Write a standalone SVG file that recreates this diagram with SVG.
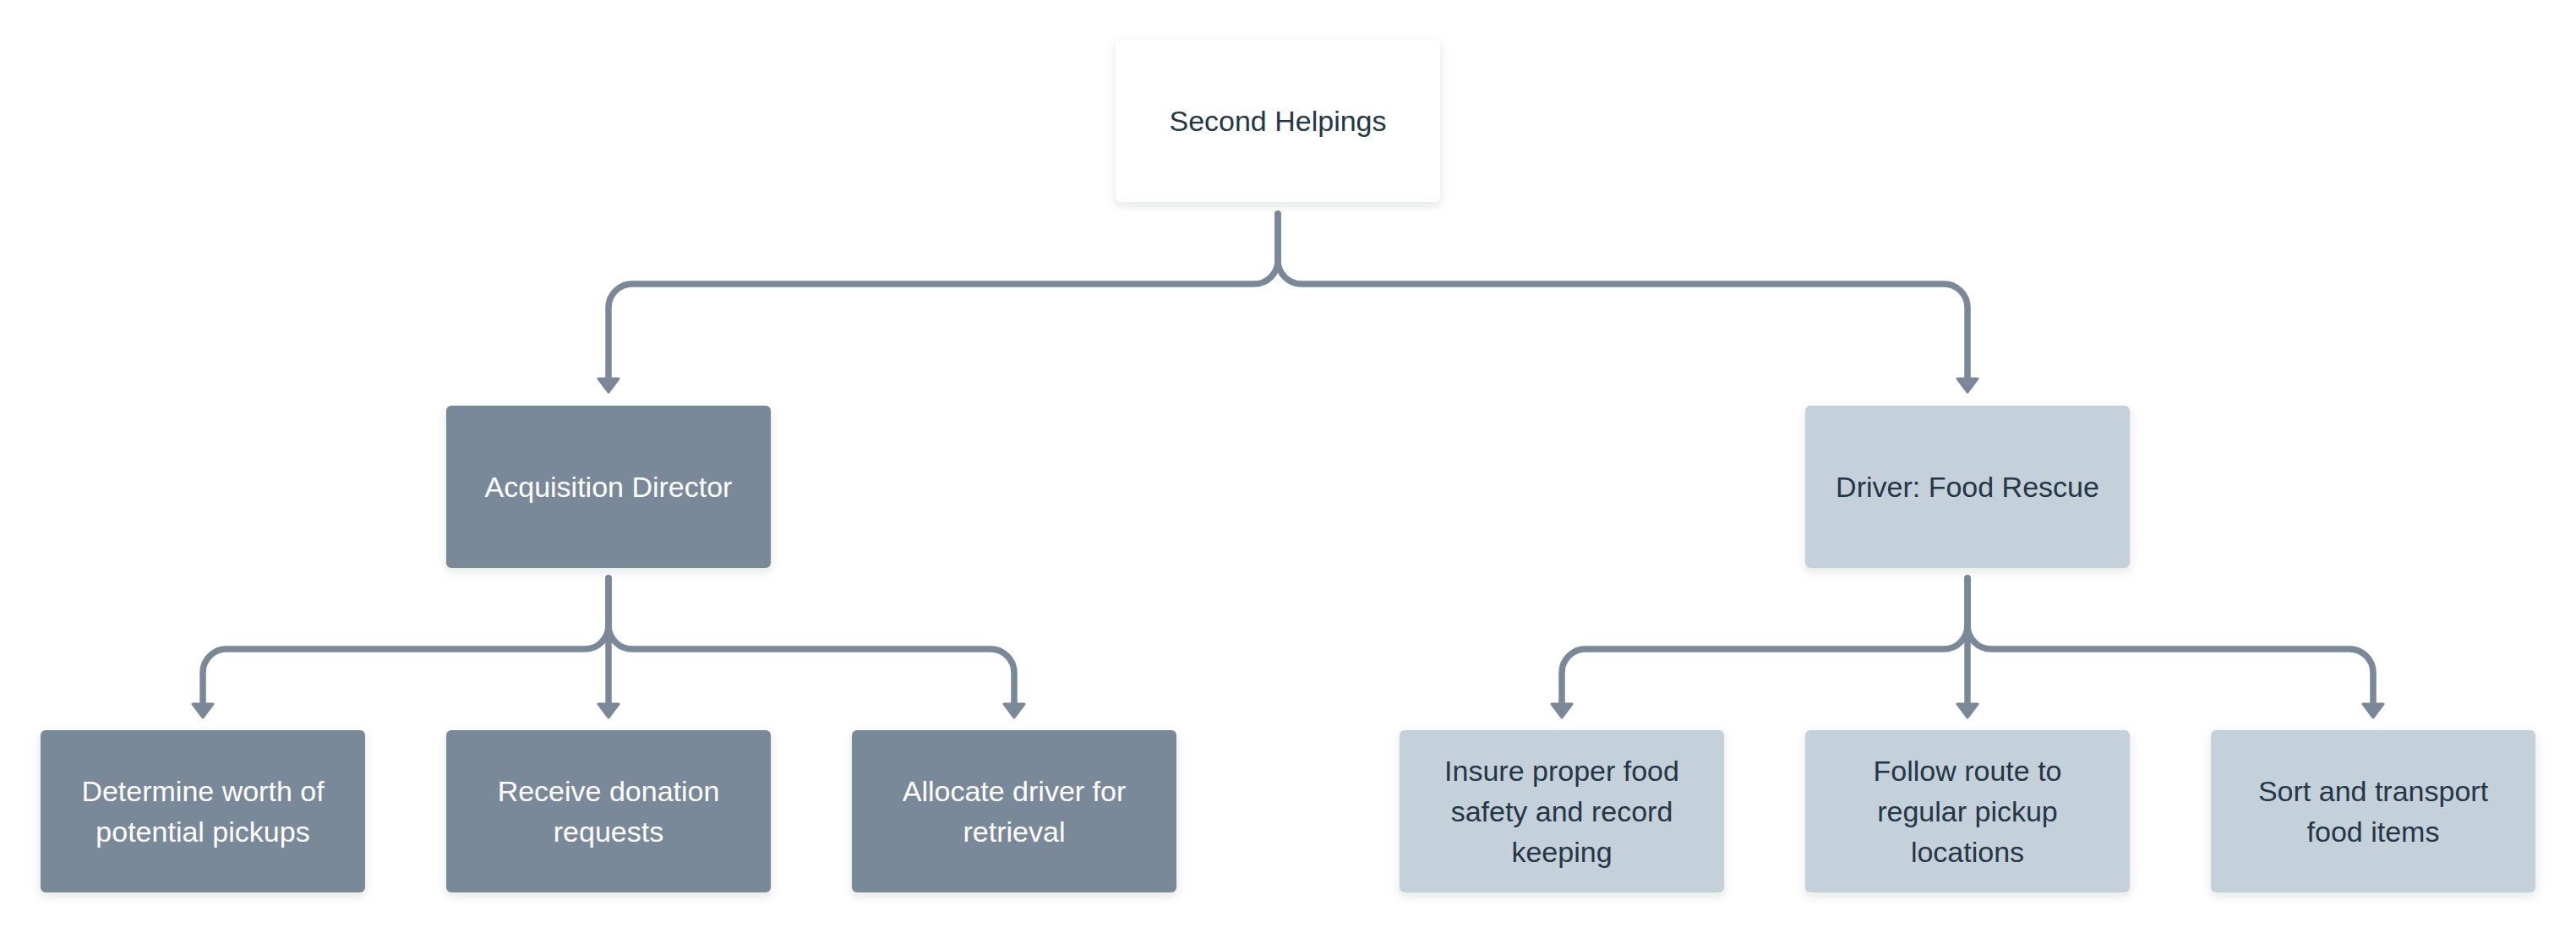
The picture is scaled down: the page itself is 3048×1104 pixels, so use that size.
<svg xmlns="http://www.w3.org/2000/svg" width="3048" height="1104" viewBox="0 0 3048 1104">
  <defs>
    <filter id="sh" x="-10%" y="-10%" width="120%" height="130%">
      <feDropShadow dx="0" dy="4" stdDeviation="6" flood-color="#1f2d3a" flood-opacity="0.12"/>
    </filter>
    <marker id="arr" markerUnits="userSpaceOnUse" viewBox="-3 -16 23 32" refX="0" refY="0" markerWidth="23" markerHeight="32" orient="auto">
      <path d="M0,-12 L16,0 L0,12 Z" fill="#7a8898" stroke="#7a8898" stroke-width="3" stroke-linejoin="round"/>
    </marker>
  </defs>
  <style>
    .box { rx: 6; ry: 6; }
    .top { fill: #ffffff; }
    .dark { fill: #7a8999; }
    .light { fill: #c4d0da; }
    text { font-family: "Liberation Sans", Arial, sans-serif; font-size: 34px; text-anchor: middle; }
    .tdark { fill: #243746; }
    .tlight { fill: #ffffff; }
    .conn { fill: none; stroke: #7a8898; stroke-width: 7.5; stroke-linecap: round; stroke-linejoin: round; }
  </style>
  <rect width="3048" height="1104" fill="#ffffff"/>

  <g id="connectors">
    <path class="conn" d="M1512 253 V308 A28 28 0 0 1 1484 336 H748 A28 28 0 0 0 720 364 V448" marker-end="url(#arr)"/>
    <path class="conn" d="M1512 253 V308 A28 28 0 0 0 1540 336 H2300 A28 28 0 0 1 2328 364 V448" marker-end="url(#arr)"/>

    <path class="conn" d="M720 684 V740 A28 28 0 0 1 692 768 H268 A28 28 0 0 0 240 796 V833" marker-end="url(#arr)"/>
    <path class="conn" d="M720 684 V833" marker-end="url(#arr)"/>
    <path class="conn" d="M720 740 A28 28 0 0 0 748 768 H1172 A28 28 0 0 1 1200 796 V833" marker-end="url(#arr)"/>

    <path class="conn" d="M2328 684 V740 A28 28 0 0 1 2300 768 H1876 A28 28 0 0 0 1848 796 V833" marker-end="url(#arr)"/>
    <path class="conn" d="M2328 684 V833" marker-end="url(#arr)"/>
    <path class="conn" d="M2328 740 A28 28 0 0 0 2356 768 H2780 A28 28 0 0 1 2808 796 V833" marker-end="url(#arr)"/>
  </g>

  <g id="node-second-helpings">
    <rect class="box top" x="1320" y="47" width="384" height="192" filter="url(#sh)"/>
    <text class="tdark" x="1512" y="155">Second Helpings</text>
  </g>

  <g id="node-acquisition-director">
    <rect class="box dark" x="528" y="480" width="384" height="192" filter="url(#sh)"/>
    <text class="tlight" x="720" y="588">Acquisition Director</text>
  </g>

  <g id="node-driver-food-rescue">
    <rect class="box light" x="2136" y="480" width="384" height="192" filter="url(#sh)"/>
    <text class="tdark" x="2328" y="588">Driver: Food Rescue</text>
  </g>

  <g id="node-determine-worth">
    <rect class="box dark" x="48" y="864" width="384" height="192" filter="url(#sh)"/>
    <text class="tlight" x="240" y="948">Determine worth of</text>
    <text class="tlight" x="240" y="996">potential pickups</text>
  </g>

  <g id="node-receive-donation">
    <rect class="box dark" x="528" y="864" width="384" height="192" filter="url(#sh)"/>
    <text class="tlight" x="720" y="948">Receive donation</text>
    <text class="tlight" x="720" y="996">requests</text>
  </g>

  <g id="node-allocate-driver">
    <rect class="box dark" x="1008" y="864" width="384" height="192" filter="url(#sh)"/>
    <text class="tlight" x="1200" y="948">Allocate driver for</text>
    <text class="tlight" x="1200" y="996">retrieval</text>
  </g>

  <g id="node-insure-food-safety">
    <rect class="box light" x="1656" y="864" width="384" height="192" filter="url(#sh)"/>
    <text class="tdark" x="1848" y="924">Insure proper food</text>
    <text class="tdark" x="1848" y="972">safety and record</text>
    <text class="tdark" x="1848" y="1020">keeping</text>
  </g>

  <g id="node-follow-route">
    <rect class="box light" x="2136" y="864" width="384" height="192" filter="url(#sh)"/>
    <text class="tdark" x="2328" y="924">Follow route to</text>
    <text class="tdark" x="2328" y="972">regular pickup</text>
    <text class="tdark" x="2328" y="1020">locations</text>
  </g>

  <g id="node-sort-transport">
    <rect class="box light" x="2616" y="864" width="384" height="192" filter="url(#sh)"/>
    <text class="tdark" x="2808" y="948">Sort and transport</text>
    <text class="tdark" x="2808" y="996">food items</text>
  </g>
</svg>
